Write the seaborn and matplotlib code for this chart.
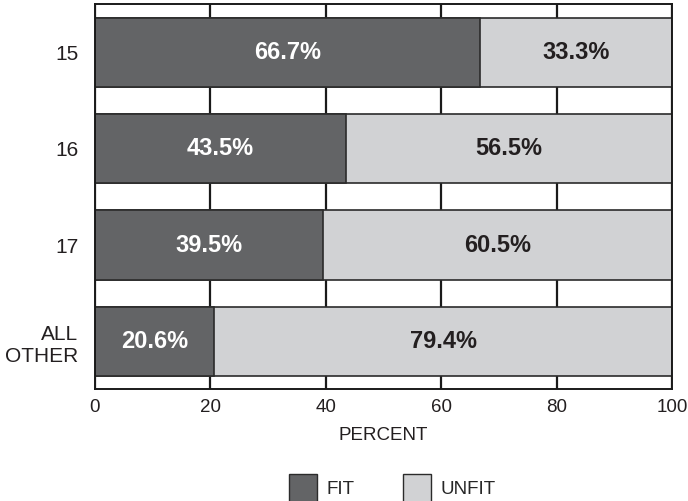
import matplotlib
matplotlib.use("Agg")
import matplotlib.pyplot as plt
import seaborn as sns
import pandas as pd
from matplotlib.patches import Patch

# Data
ages = ["15", "16", "17", "ALL\nOTHER"]
fit = [66.7, 43.5, 39.5, 20.6]
unfit = [33.3, 56.5, 60.5, 79.4]

FIT_COLOR = "#636466"
UNFIT_COLOR = "#d1d2d4"
EDGE = "#2b2b2b"

sns.set_theme(style="white")
plt.rcParams["font.family"] = ["Liberation Sans", "DejaVu Sans"]

df = pd.DataFrame({"age": ages, "fit": fit, "unfit": unfit})
df["total"] = df["fit"] + df["unfit"]

fig, ax = plt.subplots(figsize=(6.88, 5.01), dpi=100)
fig.subplots_adjust(left=0.138, right=0.977, top=0.992, bottom=0.2236)

# gridlines behind the bars
ax.set_axisbelow(True)
ax.xaxis.grid(True, color="#1a1a1a", linewidth=1.6)

# stacked: full bar in UNFIT colour, FIT on top of it
sns.barplot(data=df, x="total", y="age", color=UNFIT_COLOR, orient="h",
            width=0.72, edgecolor=EDGE, linewidth=1.2, saturation=1, ax=ax)
sns.barplot(data=df, x="fit", y="age", color=FIT_COLOR, orient="h",
            width=0.72, edgecolor=EDGE, linewidth=1.2, saturation=1, ax=ax)

# percent labels
for i, (f, u) in enumerate(zip(fit, unfit)):
    ax.text(f / 2, i, f"{f:.1f}%", ha="center", va="center",
            color="white", fontsize=17, fontweight="bold")
    ax.text(f + u / 2, i, f"{u:.1f}%", ha="center", va="center",
            color="#231f20", fontsize=17, fontweight="bold")

ax.set_xlim(0, 100)
ax.set_ylim(3.49, -0.5)
ax.set_xticks([0, 20, 40, 60, 80, 100])
ax.set_xlabel("PERCENT", fontsize=13.5, color="#231f20", labelpad=8)
ax.set_ylabel("")
ax.tick_params(axis="x", length=0, pad=7, labelsize=13.5, labelcolor="#231f20")
ax.tick_params(axis="y", length=0, pad=12, labelsize=15, labelcolor="#231f20")
for lab in ax.get_yticklabels():
    lab.set_horizontalalignment("right")
    lab.set_multialignment("right")

for s in ax.spines.values():
    s.set_visible(True)
    s.set_color("#1a1a1a")
    s.set_linewidth(1.4)

handles = [Patch(facecolor=FIT_COLOR, edgecolor=EDGE, label="FIT"),
           Patch(facecolor=UNFIT_COLOR, edgecolor=EDGE, label="UNFIT")]
fig.legend(handles=handles, loc="lower center", bbox_to_anchor=(0.57, -0.035),
           ncol=2, frameon=False, fontsize=13.5, handlelength=1.5,
           handleheight=1.9, handletextpad=0.5, columnspacing=2.6)

fig.savefig("out.png", dpi=100)
